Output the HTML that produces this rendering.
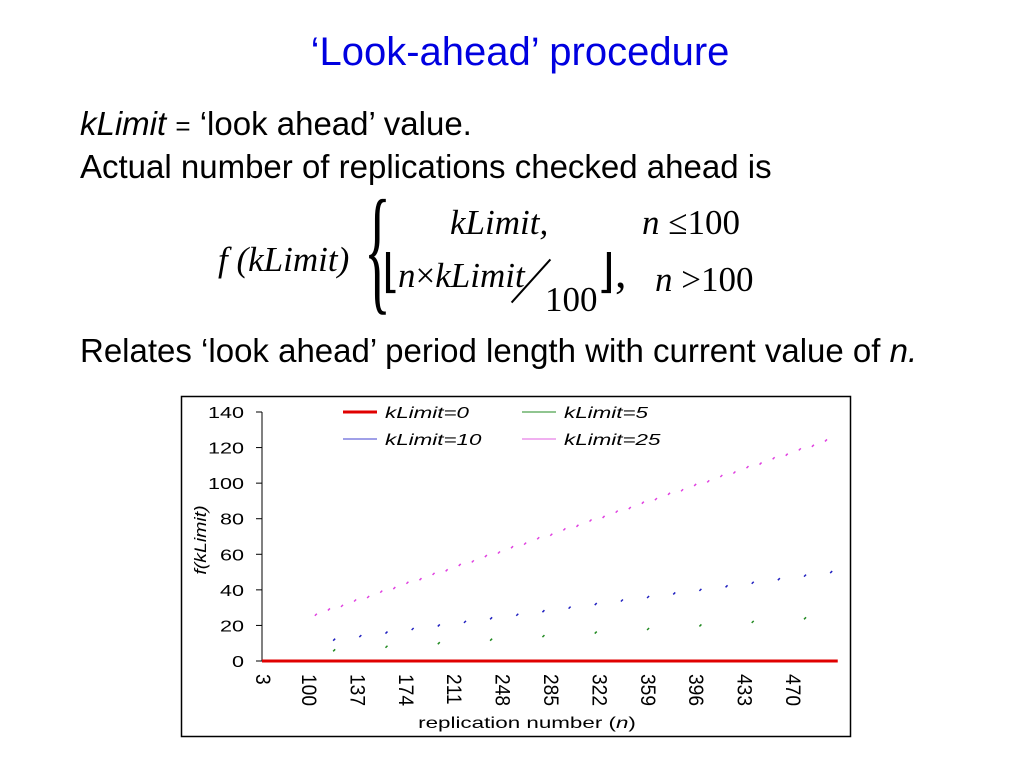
<!DOCTYPE html>
<html><head><meta charset="utf-8"><style>
body{margin:0;width:1024px;height:768px;background:#fff;position:relative;overflow:hidden;font-family:"Liberation Sans",sans-serif}
.a{position:absolute;white-space:nowrap}
.s{font-family:"Liberation Serif",serif;font-style:italic;font-size:35px}
</style></head><body>
<div class="a" style="left:0;width:1040px;text-align:center;top:30px;font-size:40px;color:#0000e0">‘Look-ahead’ procedure</div>
<div class="a" style="left:80px;top:105px;font-size:33px"><i>kLimit</i> <span style="font-size:26px">=</span> ‘look ahead’ value.</div>
<div class="a" style="left:80px;top:148px;font-size:33px">Actual number of replications checked ahead is</div>
<div>
<div class="a s" style="left:218px;top:240px">f (kLimit)</div>
<div class="a" style="left:364px;top:180px;font-family:'Liberation Serif',serif;font-size:140px;transform:scaleX(0.4);transform-origin:left top;line-height:140px">{</div>
<div class="a s" style="left:450px;top:203px">kLimit,</div>
<div class="a s" style="left:642px;top:203px;font-style:normal"><i>n</i> ≤100</div>
<div class="a s" style="left:382px;top:244px;font-style:normal;font-size:46px">⌊</div>
<div class="a s" style="left:398px;top:256px"><i>n</i><span style="font-style:normal">×</span>kLimit</div>
<div class="a" style="left:530px;top:252px;width:2px;height:58px;background:#000;transform:rotate(42deg)"></div>
<div class="a s" style="left:545px;top:280px;font-style:normal">100</div>
<div class="a s" style="left:597px;top:244px;font-style:normal;font-size:46px">⌋,</div>
<div class="a s" style="left:655px;top:260px;font-style:normal"><i>n</i> &gt;100</div>
</div>
<div class="a" style="left:80px;top:332px;font-size:33px">Relates ‘look ahead’ period length with current value of <i>n.</i></div>
<svg class="a" style="left:0;top:0" width="1024" height="768" id="ch"></svg>
<script>
const ticksY=[0,20,40,60,80,100,120,140];
const ticksX=[3,100,137,174,211,248,285,322,359,396,433,470];
const redN=[3,505];const redV=[0,0];
const greenN=[120,160,200,240,280,320,360,400,440,480];
const greenV=[6,8,10,12,14,16,18,20,22,24];
const blueN=[120,140,160,180,200,220,240,260,280,300,320,340,360,380,400,420,440,460,480,500];
const blueV=[12,14,16,18,20,22,24,26,28,30,32,34,36,38,40,42,44,46,48,50];
const pinkN=[106,116,126,136,146,156,166,176,186,196,206,216,226,236,246,256,266,276,286,296,306,316,326,336,346,356,366,376,386,396,406,416,426,436,446,456,466,476,486,496];
const pinkV=[26,29,31,34,36,39,41,44,46,49,51,54,56,59,61,64,66,69,71,74,76,79,81,84,86,89,91,94,96,99,101,104,106,109,111,114,116,119,121,124];
const svg=document.getElementById('ch');const NS='http://www.w3.org/2000/svg';
function X(n){return n<100?262+(n-3)/97*46:308+(n-100)*1.308;}
function Y(v){return 661-v*(249/140);}
function mk(t,a,p){const e=document.createElementNS(NS,t);for(const k in a)e.setAttribute(k,a[k]);(p||svg).appendChild(e);return e;}
let e=mk('rect',{x:181.5,y:396.5,width:669,height:340,fill:'none',stroke:'#000','stroke-width':1.5});


e=mk('line',{x1:262,y1:412,x2:262,y2:661,stroke:'#000'});


ticksY.forEach(v=>{
 let t=mk('line',{x1:256,x2:262,y1:Y(v),y2:Y(v),stroke:'#000'});
 
 
 let l=mk('text',{transform:`translate(244,${Y(v)+6}) scale(1.35,1)`,'text-anchor':'end','font-size':16,'font-family':'Liberation Sans'});l.textContent=v;
 
 
});
ticksX.forEach(n=>{
 let l=mk('text',{transform:`translate(${X(n)-6},674) rotate(90) scale(1.2,1.3)`,'font-size':16,'font-family':'Liberation Sans'});l.textContent=n;
 
 
});
e=mk('text',{transform:'translate(527,728) scale(1.4,1)','text-anchor':'middle','font-size':16,'font-family':'Liberation Sans'});e.innerHTML='replication number (<tspan font-style="italic">n</tspan>)';


e=mk('text',{transform:'translate(206,540) rotate(-90) scale(1.3,1.1)','text-anchor':'middle','font-size':15,'font-style':'italic','font-family':'Liberation Sans'});e.textContent='f(kLimit)';


e=mk('line',{x1:X(redN[0]),x2:X(redN[1]),y1:Y(redV[0]),y2:Y(redV[1]),stroke:'#e00000','stroke-width':3});


function dots(N,V,c,name){N.forEach((n,i)=>{let d=mk('line',{x1:X(n)-1,x2:X(n)+1,y1:Y(V[i])+1,y2:Y(V[i])-1,stroke:c,'stroke-width':1.5});
 
 });}
dots(greenN,greenV,'#228b22','point-klimit-5');
dots(blueN,blueV,'#2020c0','point-klimit-10');
dots(pinkN,pinkV,'#e040e0','point-klimit-25');
[[343,412,'#e00000',3,'kLimit=0'],[522,412,'#228b22',1,'kLimit=5'],[343,439,'#4040d0',1,'kLimit=10'],[522,439,'#e060e0',1,'kLimit=25']].forEach(L=>{
 let g=mk('g',{});
 
 
 mk('line',{x1:L[0],x2:L[0]+34,y1:L[1],y2:L[1],stroke:L[2],'stroke-width':L[3]},g);
 let t=mk('text',{transform:`translate(${L[0]+42},${L[1]+6}) scale(1.4,1)`,'font-size':16,'font-style':'italic','font-family':'Liberation Sans'},g);t.textContent=L[4];
});
</script>
</body></html>
